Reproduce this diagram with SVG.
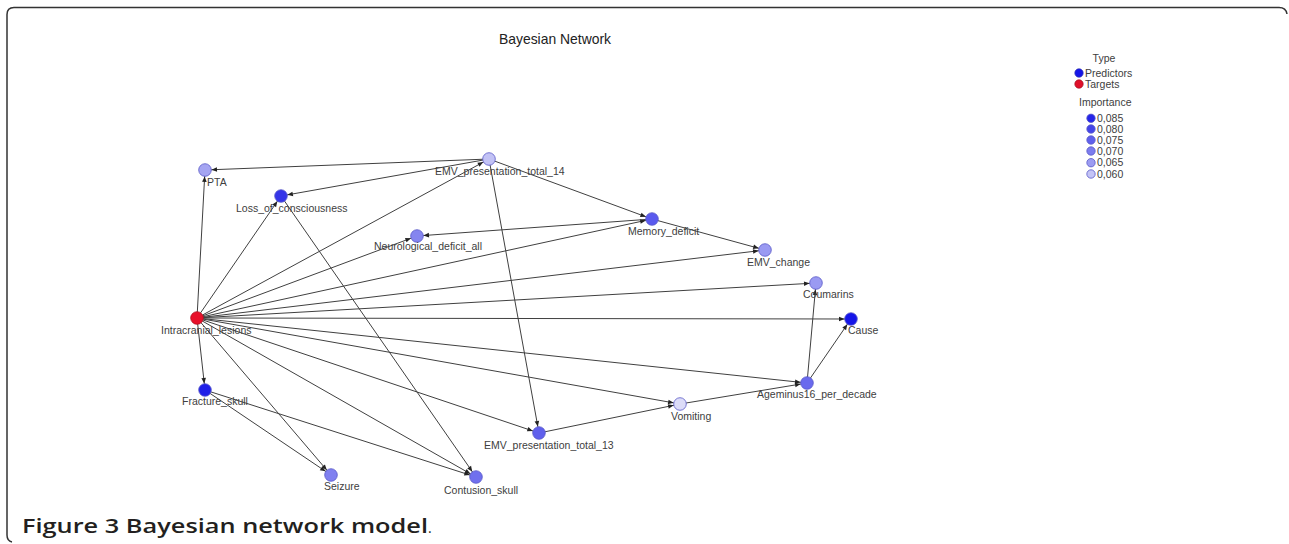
<svg xmlns="http://www.w3.org/2000/svg" width="1289" height="544" viewBox="0 0 1289 544">
<style>
.lbl{font-family:"Liberation Sans",Arial,sans-serif;font-size:10.5px;fill:#404040}
.edge{stroke:#404040;stroke-width:1;fill:none;marker-end:url(#arr)}
.node{stroke:#5a5ac8;stroke-width:0.8}
.frame{fill:none;stroke:#333;stroke-width:1.5}
</style>
<defs>
<marker id="arr" markerUnits="userSpaceOnUse" markerWidth="10" markerHeight="10" refX="6.5" refY="0" orient="auto" overflow="visible">
<path d="M-5.5,-2.3 L0,0 L-5.5,2.3 z" fill="#222"/>
</marker>
</defs>
<rect width="1289" height="544" fill="#fff"/>
<path class="frame" d="M1287,14 Q1286,7.5 1279,7.5 L14,7.5 Q7,7.5 7,14.5 L7,535 Q7,541 12,542"/>
<text x="555" y="44" text-anchor="middle" style="font-family:'Liberation Sans',Arial,sans-serif;font-size:13.9px;fill:#222">Bayesian Network</text>
<g id="connectors">
<line class="edge" x1="197" y1="318" x2="205" y2="170"/>
<line class="edge" x1="197" y1="318" x2="281" y2="196"/>
<line class="edge" x1="197" y1="318" x2="489" y2="159"/>
<line class="edge" x1="197" y1="318" x2="417" y2="236"/>
<line class="edge" x1="197" y1="318" x2="652" y2="219"/>
<line class="edge" x1="197" y1="318" x2="765" y2="250"/>
<line class="edge" x1="197" y1="318" x2="816" y2="283"/>
<line class="edge" x1="197" y1="318" x2="851" y2="319"/>
<line class="edge" x1="197" y1="318" x2="807" y2="383"/>
<line class="edge" x1="197" y1="318" x2="680" y2="404"/>
<line class="edge" x1="197" y1="318" x2="539" y2="433"/>
<line class="edge" x1="197" y1="318" x2="476" y2="477"/>
<line class="edge" x1="197" y1="318" x2="331" y2="475"/>
<line class="edge" x1="197" y1="318" x2="205" y2="390"/>
<line class="edge" x1="489" y1="159" x2="205" y2="170"/>
<line class="edge" x1="489" y1="159" x2="281" y2="196"/>
<line class="edge" x1="281" y1="196" x2="476" y2="477"/>
<line class="edge" x1="489" y1="159" x2="652" y2="219"/>
<line class="edge" x1="489" y1="159" x2="539" y2="433"/>
<line class="edge" x1="652" y1="219" x2="417" y2="236"/>
<line class="edge" x1="652" y1="219" x2="765" y2="250"/>
<line class="edge" x1="807" y1="383" x2="816" y2="283"/>
<line class="edge" x1="807" y1="383" x2="851" y2="319"/>
<line class="edge" x1="680" y1="404" x2="807" y2="383"/>
<line class="edge" x1="539" y1="433" x2="680" y2="404"/>
<line class="edge" x1="205" y1="390" x2="331" y2="475"/>
<line class="edge" x1="205" y1="390" x2="476" y2="477"/>
</g>
<g id="node-pta"><circle class="node" cx="205" cy="170" r="6.3" fill="#a5a5f2"/><text class="lbl" x="207" y="186">PTA</text></g>
<g id="node-loss"><circle class="node" cx="281" cy="196" r="6.3" fill="#3535e8"/><text class="lbl" x="236" y="211.5">Loss_of_consciousness</text></g>
<g id="node-emv14"><circle class="node" cx="489" cy="159" r="6.3" fill="#c2c2f5"/><text class="lbl" x="435" y="174.5">EMV_presentation_total_14</text></g>
<g id="node-neuro"><circle class="node" cx="417" cy="236" r="6.3" fill="#8585ef"/><text class="lbl" x="374" y="250">Neurological_deficit_all</text></g>
<g id="node-memory"><circle class="node" cx="652" cy="219" r="6.3" fill="#5a5aee"/><text class="lbl" x="628" y="234.5">Memory_deficit</text></g>
<g id="node-emvchange"><circle class="node" cx="765" cy="250" r="6.3" fill="#9a9af2"/><text class="lbl" x="747" y="265.5">EMV_change</text></g>
<g id="node-coumarins"><circle class="node" cx="816" cy="283" r="6.3" fill="#9a9af2"/><text class="lbl" x="803" y="297.5">Coumarins</text></g>
<g id="node-cause"><circle class="node" cx="851" cy="319" r="6.3" fill="#1515e8"/><text class="lbl" x="848" y="333.5">Cause</text></g>
<g id="node-age"><circle class="node" cx="807" cy="383" r="6.3" fill="#6a6aee"/><text class="lbl" x="757" y="397.5">Ageminus16_per_decade</text></g>
<g id="node-vomiting"><circle class="node" cx="680" cy="404" r="6.3" fill="#dcdcf8"/><text class="lbl" x="671" y="419.5">Vomiting</text></g>
<g id="node-emv13"><circle class="node" cx="539" cy="433" r="6.3" fill="#6060ec"/><text class="lbl" x="484" y="448.5">EMV_presentation_total_13</text></g>
<g id="node-contusion"><circle class="node" cx="476" cy="477" r="6.3" fill="#7070ee"/><text class="lbl" x="444" y="494">Contusion_skull</text></g>
<g id="node-seizure"><circle class="node" cx="331" cy="475" r="6.3" fill="#8080f0"/><text class="lbl" x="324" y="489.5">Seizure</text></g>
<g id="node-fracture"><circle class="node" cx="205" cy="390" r="6.3" fill="#2020e8"/><text class="lbl" x="182" y="405">Fracture_skull</text></g>
<g id="node-intracranial"><circle cx="197" cy="318" r="6.3" fill="#e8102a" stroke="#b01020" stroke-width="0.8"/><text class="lbl" x="161" y="333.5">Intracranial_lesions</text></g>
<g id="legend">
<text class="lbl" x="1104" y="62" text-anchor="middle">Type</text>
<circle cx="1079" cy="73" r="4.2" fill="#1515e8" stroke="#3030b0" stroke-width="0.7"/>
<text class="lbl" x="1085" y="77">Predictors</text>
<circle cx="1079" cy="84" r="4.2" fill="#e0102a" stroke="#a01020" stroke-width="0.7"/>
<text class="lbl" x="1085" y="88">Targets</text>
<text class="lbl" x="1079" y="106">Importance</text>
<circle class="node" cx="1091" cy="118.3" r="4.2" fill="#2525e8"/><text class="lbl" x="1097" y="122">0,085</text>
<circle class="node" cx="1091" cy="129" r="4.2" fill="#4545e8"/><text class="lbl" x="1097" y="132.7">0,080</text>
<circle class="node" cx="1091" cy="140" r="4.2" fill="#6060ec"/><text class="lbl" x="1097" y="143.7">0,075</text>
<circle class="node" cx="1091" cy="151" r="4.2" fill="#7c7cee"/><text class="lbl" x="1097" y="154.7">0,070</text>
<circle class="node" cx="1091" cy="162.7" r="4.2" fill="#9c9cf2"/><text class="lbl" x="1097" y="166.4">0,065</text>
<circle class="node" cx="1091" cy="174" r="4.2" fill="#c4c4f6"/><text class="lbl" x="1097" y="177.7">0,060</text>
</g>
<text x="22" y="533" textLength="406" lengthAdjust="spacingAndGlyphs" style="font-family:'Open Sans','DejaVu Sans',sans-serif;font-size:19.5px;font-weight:600;fill:#231f20">Figure 3 Bayesian network model</text>
<text x="428" y="533" style="font-family:'Open Sans',sans-serif;font-size:14px;fill:#231f20">.</text>
</svg>
